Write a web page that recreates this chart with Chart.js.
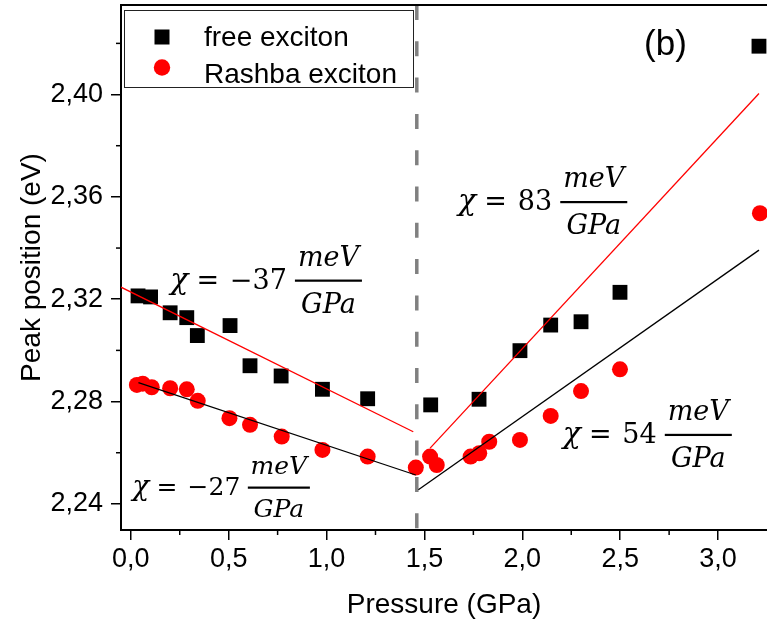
<!DOCTYPE html>
<html>
<head>
<meta charset="utf-8">
<script src="https://cdn.jsdelivr.net/npm/chart.js@4"></script>
<style>
  html, body { margin: 0; padding: 0; background: #fff; }
  #wrap { width: 767px; height: 623px; }
</style>
</head>
<body>
<div id="wrap"><canvas id="peakChart"></canvas></div>
<script>
// values: pressure (GPa) vs peak position (eV)
const freePressure = [0.037, 0.101, 0.201, 0.286, 0.340, 0.507, 0.609, 0.768, 0.979, 1.210, 1.532, 1.779, 1.988, 2.145, 2.300, 2.499, 3.209];
const freePeak     = [2.3213, 2.3209, 2.3147, 2.3128, 2.3058, 2.3097, 2.2940, 2.2900, 2.2848, 2.2811, 2.2787, 2.2809, 2.2999, 2.3099, 2.3112, 2.3227, 2.4189];

const rashbaPressure = [0.031, 0.061, 0.107, 0.201, 0.286, 0.342, 0.504, 0.609, 0.771, 0.979, 1.210, 1.456, 1.529, 1.563, 1.736, 1.780, 1.831, 1.988, 2.145, 2.300, 2.499, 3.214];
const rashbaPeak     = [2.2865, 2.2870, 2.2856, 2.2852, 2.2848, 2.2803, 2.2735, 2.2709, 2.2663, 2.2611, 2.2585, 2.2542, 2.2585, 2.2552, 2.2585, 2.2598, 2.2643, 2.2650, 2.2744, 2.2841, 2.2926, 2.3536];

// linear fits, end points
const freeFitLowX    = [-0.05, 1.443];
const freeFitLowY    = [2.3247, 2.2682];
const rashbaFitLowX  = [0.039, 1.456];
const rashbaFitLowY  = [2.2874, 2.2513];
const freeFitHighX   = [1.529, 3.209];
const freeFitHighY   = [2.2618, 2.4004];
const rashbaFitHighX = [1.469, 3.209];
const rashbaFitHighY = [2.2455, 2.3392];

const transitionPressure = 1.461;

// axes
const xMin = -0.05, xMax = 3.25;
const yMin = 2.2298, yMax = 2.435;
const xTicks = [0, 0.5, 1.0, 1.5, 2.0, 2.5, 3.0];
const xMinorTicks = [0.25, 0.75, 1.25, 1.75, 2.25, 2.75];
const yTicks = [2.24, 2.28, 2.32, 2.36, 2.40];
const yMinorTicks = [2.26, 2.30, 2.34, 2.38, 2.42];

// slope labels (meV/GPa) and where they sit, in data units
const slopeValues = [-37, -27, 83, 54];
const slopeAnchorX = [0.201, 0.007, 1.672, 2.206];
const slopeAnchorY = [2.3273, 2.2464, 2.3580, 2.2670];
const slopeSizes = [27, 25, 27, 27];

const sansFont = "'Liberation Sans', Arial, sans-serif";
const serifFont = "'DejaVu Serif', serif";

function pts(xs, ys) {
    return xs.map((v, i) => ({ x: v, y: ys[i] }));
}

function fitLine(xs, ys, color) {
    return {
        data: pts(xs, ys),
        showLine: true,
        borderColor: color,
        borderWidth: 1.3,
        pointRadius: 0,
        order: 1
    };
}

function drawSlope(ctx, px, py, value, size) {
    const base = py + size * 0.31;
    let cx = px;
    ctx.fillStyle = '#000';
    ctx.textAlign = 'left';
    ctx.textBaseline = 'alphabetic';
    ctx.font = 'italic ' + (size + 3) + 'px ' + serifFont;
    ctx.fillText('χ', cx, base);
    cx += ctx.measureText('χ').width + size * 0.3;
    ctx.font = size + 'px ' + serifFont;
    ctx.fillText('=', cx, base);
    cx += ctx.measureText('=').width + size * 0.4;
    const num = value < 0 ? '\u2212' + Math.abs(value) : String(value);
    ctx.fillText(num, cx, base);
    cx += ctx.measureText(num).width + size * 0.3;
    ctx.font = 'italic ' + size + 'px ' + serifFont;
    const w = Math.max(ctx.measureText('meV').width, ctx.measureText('GPa').width) + size * 0.22;
    ctx.fillRect(cx, py - 1, w, 2.2);
    ctx.textAlign = 'center';
    ctx.fillText('meV', cx + w / 2, py - size * 0.55);
    ctx.fillText('GPa', cx + w / 2, py + size * 1.19);
}

const decor = {
    id: 'decor',
    afterDraw(chart) {
        const { ctx, chartArea: a, scales: { x, y } } = chart;
        ctx.save();

        // top frame line
        ctx.strokeStyle = '#000';
        ctx.lineWidth = 2;
        ctx.beginPath();
        ctx.moveTo(a.left - 1, a.top);
        ctx.lineTo(a.right, a.top);
        ctx.stroke();

        // minor ticks
        ctx.lineWidth = 1.5;
        xMinorTicks.forEach(v => {
            const px = x.getPixelForValue(v);
            ctx.beginPath();
            ctx.moveTo(px, a.bottom);
            ctx.lineTo(px, a.bottom + 5);
            ctx.stroke();
        });
        yMinorTicks.forEach(v => {
            const py = y.getPixelForValue(v);
            ctx.beginPath();
            ctx.moveTo(a.left, py);
            ctx.lineTo(a.left - 5, py);
            ctx.stroke();
        });

        // legend box
        const lx = a.left + 3, ly = a.top + 5, lw = 289, lh = 77;
        ctx.fillStyle = '#fff';
        ctx.fillRect(lx, ly, lw, lh);
        ctx.strokeStyle = '#222';
        ctx.lineWidth = 1;
        ctx.strokeRect(lx + 0.5, ly + 0.5, lw, lh);
        const ds = chart.data.datasets;
        ctx.fillStyle = ds[0].backgroundColor;
        ctx.fillRect(lx + 30.5, ly + 19.5, 15, 15);
        ctx.fillStyle = ds[1].backgroundColor;
        ctx.beginPath();
        ctx.arc(lx + 38, ly + 57.5, 8.2, 0, Math.PI * 2);
        ctx.fill();
        ctx.fillStyle = '#000';
        ctx.font = '28px ' + sansFont;
        ctx.textAlign = 'left';
        ctx.textBaseline = 'alphabetic';
        ctx.fillText(ds[0].label, lx + 80, ly + 36);
        ctx.fillText(ds[1].label, lx + 80, ly + 73);

        // panel letter
        ctx.font = '35px ' + sansFont;
        ctx.textAlign = 'center';
        ctx.textBaseline = 'middle';
        ctx.fillText('(b)', x.getPixelForValue(2.731), y.getPixelForValue(2.4193));

        // slope labels
        slopeValues.forEach((v, i) => {
            drawSlope(ctx, x.getPixelForValue(slopeAnchorX[i]), y.getPixelForValue(slopeAnchorY[i]), v, slopeSizes[i]);
        });

        ctx.restore();
    }
};

Chart.defaults.font.family = sansFont;
Chart.defaults.color = '#000';

const ctx = document.getElementById('peakChart').getContext('2d');
const chart = new Chart(ctx, {
    type: 'scatter',
    data: {
        datasets: [
            {
                label: 'free exciton',
                data: pts(freePressure, freePeak),
                pointStyle: 'rect',
                pointRadius: 10.5,
                backgroundColor: '#000',
                borderColor: '#000',
                borderWidth: 0,
                order: 2
            },
            {
                label: 'Rashba exciton',
                data: pts(rashbaPressure, rashbaPeak),
                pointStyle: 'circle',
                pointRadius: 8,
                backgroundColor: '#ff0000',
                borderColor: '#ff0000',
                borderWidth: 0,
                order: 2
            },
            fitLine(freeFitLowX, freeFitLowY, '#ff0000'),
            fitLine(rashbaFitLowX, rashbaFitLowY, '#000'),
            fitLine(freeFitHighX, freeFitHighY, '#ff0000'),
            fitLine(rashbaFitHighX, rashbaFitHighY, '#000'),
            {
                data: [{ x: transitionPressure, y: yMax }, { x: transitionPressure, y: yMin }],
                showLine: true,
                borderColor: '#808080',
                borderWidth: 3.5,
                borderDash: [15, 21.3],
                pointRadius: 0,
                order: 3
            }
        ]
    },
    options: {
        responsive: true,
        maintainAspectRatio: false,
        animation: false,
        layout: { autoPadding: false, padding: { top: 5, right: 0, bottom: 0, left: 0 } },
        plugins: {
            legend: { display: false },
            tooltip: { enabled: false }
        },
        scales: {
            x: {
                type: 'linear',
                min: xMin,
                max: xMax,
                afterBuildTicks: s => { s.ticks = xTicks.map(v => ({ value: v })); },
                afterFit: s => { s.height = 93; s.paddingLeft = 0; s.paddingRight = 0; },
                ticks: {
                    font: { size: 27 },
                    padding: 3,
                    maxRotation: 0,
                    callback: v => v.toFixed(1).replace('.', ',')
                },
                grid: {
                    drawOnChartArea: false,
                    drawTicks: true,
                    tickLength: 10,
                    color: '#000',
                    lineWidth: 1.5
                },
                border: { display: true, color: '#000', width: 2 },
                title: {
                    display: true,
                    text: 'Pressure (GPa)',
                    font: { size: 28 },
                    padding: { top: 0, bottom: 1 }
                }
            },
            y: {
                type: 'linear',
                min: yMin,
                max: yMax,
                afterBuildTicks: s => { s.ticks = yTicks.map(v => ({ value: v })); },
                afterFit: s => { s.width = 121; s.paddingTop = 0; s.paddingBottom = 0; },
                ticks: {
                    font: { size: 27 },
                    padding: 8,
                    callback: v => v.toFixed(2).replace('.', ',')
                },
                grid: {
                    drawOnChartArea: false,
                    drawTicks: true,
                    tickLength: 10,
                    color: '#000',
                    lineWidth: 1.5
                },
                border: { display: true, color: '#000', width: 2 },
                title: {
                    display: true,
                    text: 'Peak position (eV)',
                    font: { size: 28 },
                    padding: { top: 15, bottom: 0 }
                }
            }
        }
    },
    plugins: [decor]
});
</script>
</body>
</html>
